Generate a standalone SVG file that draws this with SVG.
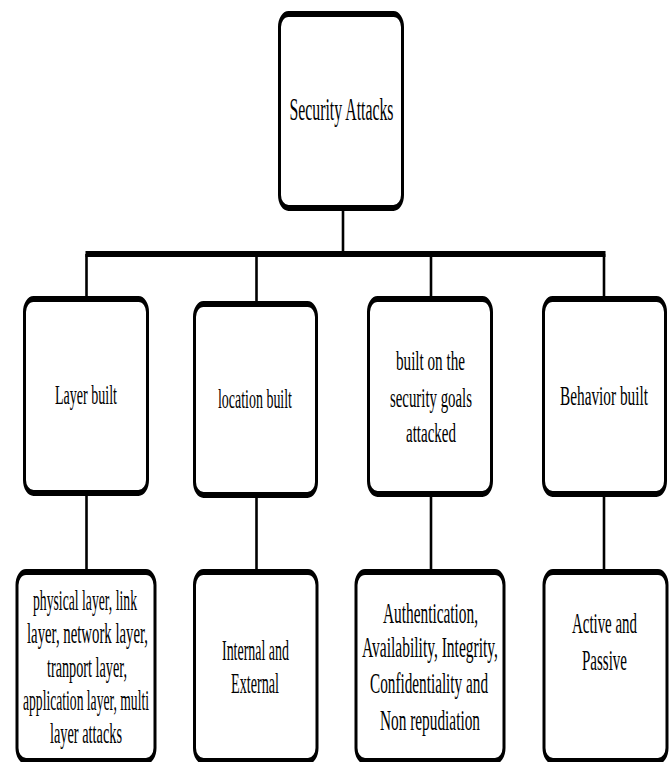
<svg xmlns="http://www.w3.org/2000/svg" width="670" height="762" viewBox="0 0 670 762">
<style>
.box{fill:#fff;stroke:#000;stroke-width:3}
.ln{stroke:#000;stroke-width:2.6;fill:none}
.bar{stroke:#000;stroke-width:3;fill:none;stroke-linecap:square}
text{font-family:"Liberation Serif","Times New Roman",serif;fill:#000;text-anchor:middle}
.t1{font-size:16px}
.t2{font-size:14px}
.t3{font-size:14.5px}
</style>
<rect width="670" height="762" fill="#fff"/>
<g transform="scale(1,2)">
<g id="connectors">
<line class="ln" x1="343" y1="104" x2="343" y2="127"/>
<line class="bar" x1="87" y1="127" x2="604" y2="127"/>
<line class="ln" x1="86.5" y1="127" x2="86.5" y2="149.5"/>
<line class="ln" x1="256.5" y1="127" x2="256.5" y2="152"/>
<line class="ln" x1="431" y1="127" x2="431" y2="149.5"/>
<line class="ln" x1="604" y1="127" x2="604" y2="149.5"/>
<line class="ln" x1="86.5" y1="246.5" x2="86.5" y2="286"/>
<line class="ln" x1="256.5" y1="247.5" x2="256.5" y2="286"/>
<line class="ln" x1="431" y1="247" x2="431" y2="286"/>
<line class="ln" x1="604" y1="247" x2="604" y2="286"/>
</g>
<g id="root">
<rect class="box" x="279.5" y="7" width="123" height="97" rx="9" ry="6.5"/>
<text class="t1" x="341.5" y="60" textLength="104" lengthAdjust="spacingAndGlyphs">Security  Attacks</text>
</g>
<g id="layer">
<rect class="box" x="24.5" y="149.5" width="123" height="97" rx="9" ry="6.5"/>
<text class="t2" x="86" y="202" textLength="62" lengthAdjust="spacingAndGlyphs">Layer built</text>
</g>
<g id="location">
<rect class="box" x="194.5" y="152" width="122" height="95.5" rx="9" ry="6.5"/>
<text class="t2" x="255" y="204" textLength="74" lengthAdjust="spacingAndGlyphs">location built</text>
</g>
<g id="goals">
<rect class="box" x="368.5" y="149.5" width="123" height="97.5" rx="9" ry="6.5"/>
<text class="t2" x="430.5" y="185" textLength="69" lengthAdjust="spacingAndGlyphs">built on the</text>
<text class="t2" x="431" y="203.5" textLength="82" lengthAdjust="spacingAndGlyphs">security goals</text>
<text class="t2" x="431" y="221" textLength="50" lengthAdjust="spacingAndGlyphs">attacked</text>
</g>
<g id="behavior">
<rect class="box" x="543.5" y="149.5" width="122" height="97.5" rx="9" ry="6.5"/>
<text class="t2" x="604" y="202.5" textLength="88" lengthAdjust="spacingAndGlyphs">Behavior built</text>
</g>
<g id="layer-list">
<rect class="box" x="17" y="286" width="138" height="94.5" rx="9" ry="6.5"/>
<text class="t3" x="85" y="305" textLength="104" lengthAdjust="spacingAndGlyphs">physical layer, link</text>
<text class="t3" x="87.5" y="321.5" textLength="121" lengthAdjust="spacingAndGlyphs">layer,  network layer,</text>
<text class="t3" x="87" y="338.5" textLength="80" lengthAdjust="spacingAndGlyphs">tranport layer,</text>
<text class="t3" x="86" y="355" textLength="126" lengthAdjust="spacingAndGlyphs">application layer, multi</text>
<text class="t3" x="86" y="371.5" textLength="72" lengthAdjust="spacingAndGlyphs">layer attacks</text>
</g>
<g id="location-list">
<rect class="box" x="194.5" y="286" width="122.5" height="94.5" rx="9" ry="6.5"/>
<text class="t3" x="255.5" y="330" textLength="67" lengthAdjust="spacingAndGlyphs">Internal and</text>
<text class="t3" x="255" y="346.5" textLength="48" lengthAdjust="spacingAndGlyphs">External</text>
</g>
<g id="goals-list">
<rect class="box" x="356" y="286" width="148" height="94.5" rx="9" ry="6.5"/>
<text class="t3" x="430.5" y="311.5" textLength="95" lengthAdjust="spacingAndGlyphs">Authentication,</text>
<text class="t3" x="430" y="328.5" textLength="136" lengthAdjust="spacingAndGlyphs">Availability, Integrity,</text>
<text class="t3" x="429" y="346.5" textLength="118" lengthAdjust="spacingAndGlyphs">Confidentiality and</text>
<text class="t3" x="430" y="365" textLength="100" lengthAdjust="spacingAndGlyphs">Non repudiation</text>
</g>
<g id="behavior-list">
<rect class="box" x="544" y="286" width="123" height="94.5" rx="9" ry="6.5"/>
<text class="t3" x="604.5" y="316.5" textLength="65" lengthAdjust="spacingAndGlyphs">Active and</text>
<text class="t3" x="604.5" y="335" textLength="45" lengthAdjust="spacingAndGlyphs">Passive</text>
</g>
</g>
</svg>
